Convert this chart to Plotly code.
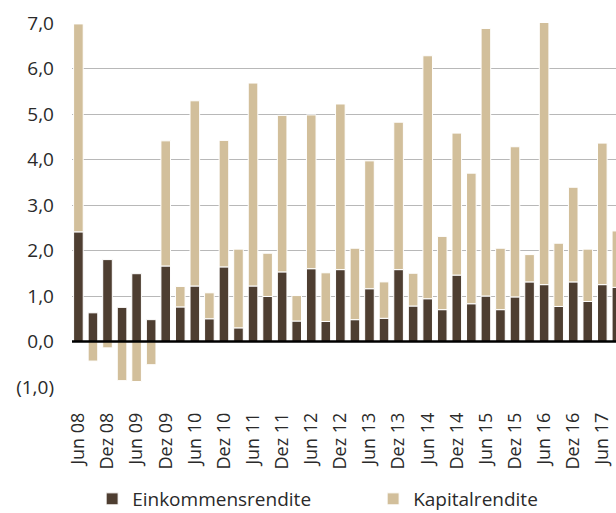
import plotly.graph_objects as go

quarters = [
    "Jun 08", "Sep 08", "Dez 08", "Mär 09", "Jun 09", "Sep 09", "Dez 09", "Mär 10",
    "Jun 10", "Sep 10", "Dez 10", "Mär 11", "Jun 11", "Sep 11", "Dez 11", "Mär 12",
    "Jun 12", "Sep 12", "Dez 12", "Mär 13", "Jun 13", "Sep 13", "Dez 13", "Mär 14",
    "Jun 14", "Sep 14", "Dez 14", "Mär 15", "Jun 15", "Sep 15", "Dez 15", "Mär 16",
    "Jun 16", "Sep 16", "Dez 16", "Mär 17", "Jun 17", "Sep 17",
]

einkommensrendite = [
    2.41, 0.63, 1.80, 0.75, 1.49, 0.48, 1.66, 0.76, 1.22, 0.50,
    1.64, 0.30, 1.22, 0.99, 1.53, 0.45, 1.60, 0.44, 1.58, 0.48,
    1.16, 0.51, 1.58, 0.78, 0.94, 0.70, 1.46, 0.83, 1.00, 0.70,
    0.98, 1.31, 1.25, 0.77, 1.31, 0.88, 1.25, 1.19,
]

kapitalrendite = [
    4.57, -0.43, -0.14, -0.86, -0.88, -0.51, 2.75, 0.45, 4.07, 0.57,
    2.78, 1.73, 4.46, 0.95, 3.44, 0.56, 3.38, 1.07, 3.64, 1.57,
    2.81, 0.80, 3.24, 0.72, 5.34, 1.61, 3.12, 2.87, 5.88, 1.35,
    3.30, 0.60, 5.80, 1.39, 2.08, 1.15, 3.11, 1.24,
]

x_tick_labels = [q for q in quarters if q.startswith("Jun") or q.startswith("Dez")]

y_tick_values = [-1, 0, 1, 2, 3, 4, 5, 6, 7]
y_tick_labels = ["(1,0)", "0,0", "1,0", "2,0", "3,0", "4,0", "5,0", "6,0", "7,0"]

DARK = "#4E3E31"
LIGHT = "#D2BF9B"
TEXT = "#2a2a2a"
FONT = "Open Sans"

fig = go.Figure()
fig.add_trace(go.Bar(
    x=quarters, y=einkommensrendite, name="Einkommensrendite",
    marker=dict(color=DARK, line=dict(color="#FFFFFF", width=1)),
    legendwidth=236,
))
fig.add_trace(go.Bar(
    x=quarters, y=kapitalrendite, name="Kapitalrendite",
    marker=dict(color=LIGHT, line=dict(color="#FFFFFF", width=1)),
    legendwidth=140,
))

# zero reference line drawn above the bars
fig.add_shape(
    type="line", xref="paper", x0=0, x1=1, yref="y", y0=0, y1=0,
    line=dict(color="#000000", width=2.5), layer="above",
)

fig.update_layout(
    width=616, height=513,
    margin=dict(l=72, r=0, t=23, b=126, pad=0),
    barmode="relative",
    bargap=0.34,
    plot_bgcolor="white",
    paper_bgcolor="white",
    font=dict(family=FONT, color=TEXT, size=18),
    legend=dict(
        orientation="h",
        xref="paper", x=0.037, xanchor="left",
        yref="container", y=0.0273, yanchor="middle",
        font=dict(family=FONT, size=19, color=TEXT),
        traceorder="normal",
        bgcolor="rgba(0,0,0,0)",
    ),
    xaxis=dict(
        type="category",
        categoryorder="array", categoryarray=quarters,
        range=[-0.44, 36.94],
        tickmode="array", tickvals=x_tick_labels, ticktext=x_tick_labels,
        tickangle=-90,
        tickfont=dict(family=FONT, size=18, color=TEXT),
        ticks="", ticklabelstandoff=21,
        showgrid=False, showline=False, zeroline=False,
        automargin=False,
    ),
    yaxis=dict(
        range=[-1.0, 7.0],
        tickmode="array", tickvals=y_tick_values, ticktext=y_tick_labels,
        tickfont=dict(family=FONT, size=19, color=TEXT),
        ticks="", ticklabelstandoff=17,
        showgrid=True, gridcolor="#B8B8B8", gridwidth=1,
        zeroline=False,
        showline=False,
        automargin=False,
    ),
)

fig.write_html(
    "out.html",
    config={"displayModeBar": False},
    post_script="document.body.style.margin='0px';",
)
